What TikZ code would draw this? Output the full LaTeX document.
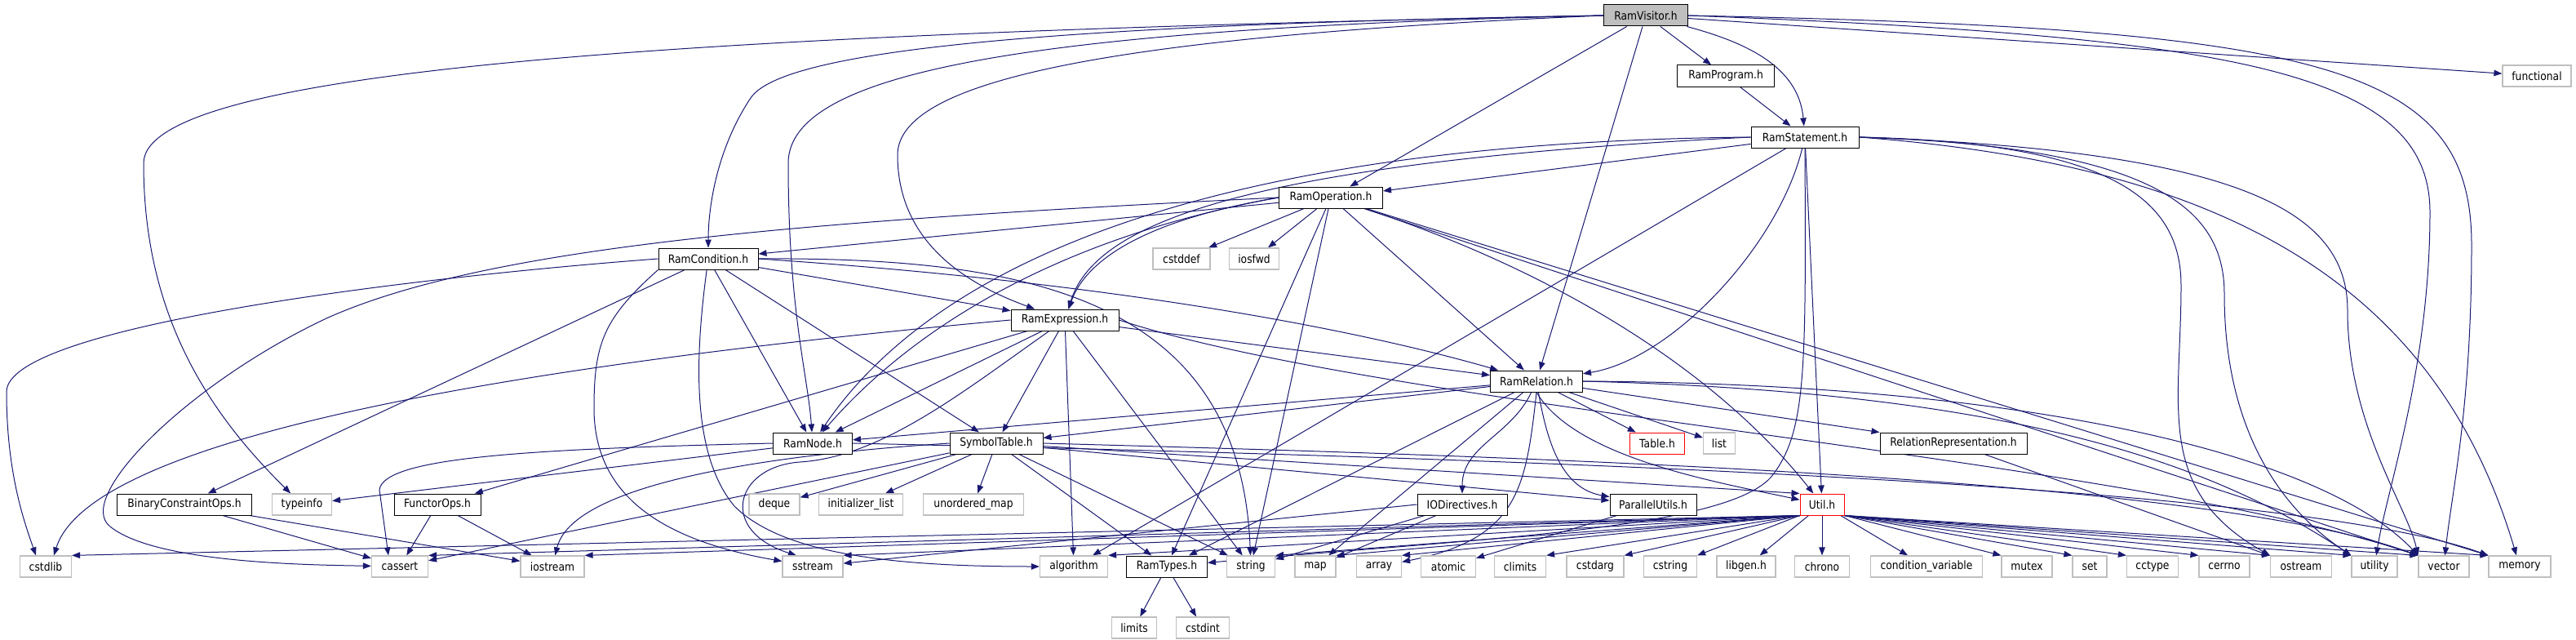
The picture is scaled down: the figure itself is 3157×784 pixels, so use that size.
\documentclass[tikz,border=0pt]{standalone}
\usepackage{fontspec}
\newfontfamily\graphfont{DejaVu Sans}[FakeStretch=0.88]
\usetikzlibrary{arrows.meta, backgrounds}

\begin{document}
\begin{tikzpicture}[x=1pt, y=-1pt,
    hdrbox/.style={draw=borderColour, fill=white, line width=1pt, inner sep=0pt,
        minimum height=26pt, font=\graphfont\fontsize{14pt}{16pt}\selectfont},
    sysbox/.style={hdrbox, draw=sysColour, line width=1.2pt},
    truncbox/.style={hdrbox, draw=truncColour},
    rootbox/.style={hdrbox, fill=rootColour},
    incl/.style={draw=edgeColour, line width=1pt, -{Triangle[length=10pt, width=7.5pt]}}]
    % Define colours
    \definecolor{borderColour}{HTML}{000000}
    \definecolor{sysColour}{HTML}{BFBFBF}
    \definecolor{truncColour}{HTML}{FF0000}
    \definecolor{rootColour}{HTML}{BFBFBF}
    \definecolor{edgeColour}{HTML}{191970}

    % Fix the canvas
    \useasboundingbox (0,0) rectangle (3157,784);

    % Draw project headers
    \node[rootbox, minimum width=103pt] (visitor) at (2017,19) {RamVisitor.h};
    \node[hdrbox, minimum width=119pt] (program) at (2115,93) {RamProgram.h};
    \node[hdrbox, minimum width=132pt] (statement) at (2212,168) {RamStatement.h};
    \node[hdrbox, minimum width=127pt] (operation) at (1631,242) {RamOperation.h};
    \node[hdrbox, minimum width=122pt] (condition) at (868,317) {RamCondition.h};
    \node[hdrbox, minimum width=132pt] (expression) at (1305,392) {RamExpression.h};
    \node[hdrbox, minimum width=113pt] (relation) at (1883,467) {RamRelation.h};
    \node[hdrbox, minimum width=97pt] (ramnode) at (996,543) {RamNode.h};
    \node[hdrbox, minimum width=114pt] (symtab) at (1221,543) {SymbolTable.h};
    \node[hdrbox, minimum width=180pt] (relrep) at (2394,543) {RelationRepresentation.h};
    \node[hdrbox, minimum width=165pt] (binops) at (226,618) {BinaryConstraintOps.h};
    \node[hdrbox, minimum width=106pt] (functor) at (536,618) {FunctorOps.h};
    \node[hdrbox, minimum width=110pt] (iodir) at (1792,618) {IODirectives.h};
    \node[hdrbox, minimum width=106pt] (parallel) at (2026,618) {ParallelUtils.h};
    \node[hdrbox, minimum width=99pt] (ramtypes) at (1430,694) {RamTypes.h};
    \node[truncbox, minimum width=67pt] (table) at (2031,543) {Table.h};
    \node[truncbox, minimum width=54pt] (util) at (2233,618) {Util.h};

    % Draw system headers
    \foreach \nd/\xpos/\ypos/\bw/\lbl in {functional/3109/93/84/functional,
        cstddef/1448/317/70/cstddef, iosfwd/1537/317/61/iosfwd, list/2107/543/39/list,
        typeinfo/370/618/73/typeinfo, deque/949/618/62/deque,
        initlist/1055/618/103/initializer\_list, umap/1193/618/123/unordered\_map,
        limits/1390/769/55/limits, cstdint/1474/769/65/cstdint}
        \node[sysbox, minimum width=\bw*1pt] (\nd) at (\xpos,\ypos) {\lbl};
    \foreach \nd/\xpos/\bw/\lbl in {cstdlib/56/63/cstdlib, cassert/490/69/cassert,
        iostream/677/78/iostream, sstream/996/74/sstream, algorithm/1316/83/algorithm,
        string/1533/59/string, map/1612/50/map, array/1690/55/array, atomic/1775/67/atomic,
        climits/1863/63/climits, cstdarg/1955/70/cstdarg, cstring/2047/65/cstring,
        libgen/2140/72/libgen.h, chrono/2233/67/chrono, condvar/2361/137/condition\_variable,
        mutex/2484/62/mutex, set/2561/42/set, cctype/2638/63/cctype, cerrno/2726/62/cerrno,
        ostream/2820/75/ostream, utility/2910/56/utility, vector/2995/62/vector,
        memory/3088/76/memory}
        \node[sysbox, minimum width=\bw*1pt] (\nd) at (\xpos,694) {\lbl};

    \begin{scope}[on background layer]
    % RamVisitor.h
    \draw[incl] (visitor) -- (program);
    \draw[incl] (visitor) to[out=-15, in=95] (statement);
    \draw[incl] (visitor) -- (operation);
    \draw[incl] (visitor) -- (relation);
    \draw[incl] (visitor) -- (functional);
    \draw[incl] (visitor.west) .. controls (1300,30) and (960,60) .. (920,120) .. controls (880,180) and (868,250) .. (condition);
    \draw[incl] (visitor.west) .. controls (1250,35) and (966,90) .. (966,200) .. controls (966,380) and (990,460) .. (ramnode);
    \draw[incl] (visitor.west) .. controls (1350,45) and (1100,100) .. (1100,190) .. controls (1100,300) and (1190,350) .. (expression);
    \draw[incl] (visitor.west) .. controls (900,40) and (176,80) .. (176,200) .. controls (176,380) and (250,500) .. (typeinfo);
    \draw[incl] (visitor.east) .. controls (2750,45) and (2978,90) .. (2978,260) .. controls (2978,450) and (2925,600) .. (utility);
    \draw[incl] (visitor.east) .. controls (2850,35) and (3029,80) .. (3029,300) .. controls (3029,500) and (3005,600) .. (vector);

    % RamProgram.h
    \draw[incl] (program) -- (statement);

    % RamStatement.h
    \draw[incl] (statement) -- (operation);
    \draw[incl] (statement.west) .. controls (1500,200) and (1340,280) .. (expression);
    \draw[incl] (statement.west) .. controls (1400,175) and (1120,360) .. (ramnode);
    \draw[incl] (statement) .. controls (2180,300) and (2050,440) .. (relation);
    \draw[incl] (statement) -- (util);
    \draw[incl] (statement) -- (algorithm);
    \draw[incl] (statement) .. controls (2213,450) and (2215,530) .. (2170,585) .. controls (2110,650) and (1800,660) .. (ramtypes);
    \draw[incl] (statement.east) .. controls (2600,175) and (2673,250) .. (2673,350) .. controls (2673,500) and (2640,600) .. (ostream.north west);
    \draw[incl] (statement.east) .. controls (2650,180) and (2726,260) .. (2726,360) .. controls (2726,520) and (2790,620) .. (utility.north west);
    \draw[incl] (statement.east) .. controls (2750,185) and (2877,260) .. (2877,380) .. controls (2877,520) and (2950,620) .. (vector.north west);
    \draw[incl] (statement.east) .. controls (2700,200) and (2980,330) .. (memory);

    % RamOperation.h
    \draw[incl] (operation) -- (condition);
    \draw[incl] (operation.west) .. controls (1400,270) and (1330,320) .. (expression);
    \draw[incl] (operation.west) .. controls (1300,290) and (1120,400) .. (ramnode);
    \draw[incl] (operation) -- (relation);
    \draw[incl] (operation) -- (ramtypes);
    \draw[incl] (operation) .. controls (1900,330) and (2100,450) .. (util);
    \draw[incl] (operation) -- (cstddef);
    \draw[incl] (operation) -- (iosfwd);
    \draw[incl] (operation) -- (string);
    \draw[incl] (operation) -- (vector.north west);
    \draw[incl] (operation) -- (memory.north west);
    \draw[incl] (operation.west) .. controls (1000,270) and (600,300) .. (400,390) .. controls (230,470) and (90,610) .. (135,645) .. controls (190,690) and (380,692) .. (cassert);

    % RamCondition.h
    \draw[incl] (condition) -- (expression);
    \draw[incl] (condition) -- (ramnode);
    \draw[incl] (condition) -- (symtab);
    \draw[incl] (condition) -- (binops);
    \draw[incl] (condition.east) .. controls (1350,345) and (1650,400) .. (relation);
    \draw[incl] (condition.east) .. controls (1250,315) and (1520,360) .. (string);
    \draw[incl] (condition.west) .. controls (500,340) and (8,400) .. (8,480) .. controls (8,580) and (30,640) .. ([xshift=-12pt]cstdlib.north);
    \draw[incl] (condition.south west) .. controls (740,390) and (728,420) .. (728,500) .. controls (728,600) and (800,660) .. (sstream);
    \draw[incl] (condition) .. controls (850,450) and (850,560) .. (900,620) .. controls (960,680) and (1100,694) .. (algorithm);

    % RamExpression.h
    \draw[incl] (expression) -- (ramnode);
    \draw[incl] (expression) -- (symtab);
    \draw[incl] (expression) -- (relation);
    \draw[incl] (expression) -- (algorithm);
    \draw[incl] (expression) -- (string);
    \draw[incl] (expression) -- (functor);
    \draw[incl] (expression.east) .. controls (1700,500) and (2600,560) .. (vector.north west);
    \draw[incl] (expression.west) .. controls (600,450) and (110,540) .. ([xshift=10pt]cstdlib.north);
    \draw[incl] (expression) .. controls (1180,480) and (1080,560) .. (980,566) .. controls (900,572) and (880,650) .. ([xshift=-20pt]sstream.north);

    % RamNode.h
    \draw[incl] (ramnode) -- (typeinfo);
    \draw[incl] (ramnode.west) .. controls (650,550) and (470,560) .. (465,600) -- ([xshift=-14pt]cassert.north);
    \draw[incl] (ramnode.east) .. controls (1800,560) and (2800,590) .. (memory.north west);

    % SymbolTable.h
    \draw[incl] (symtab) -- (deque);
    \draw[incl] (symtab) -- (initlist);
    \draw[incl] (symtab) -- (umap);
    \draw[incl] (symtab) -- (ramtypes);
    \draw[incl] (symtab) -- (string);
    \draw[incl] (symtab) -- (cassert);
    \draw[incl] (symtab.west) .. controls (900,560) and (700,600) .. (iostream);
    \draw[incl] (symtab) -- (parallel);
    \draw[incl] (symtab) -- (util.north west);
    \draw[incl] (symtab.east) .. controls (1900,560) and (2700,585) .. (vector.north west);

    % RamRelation.h
    \draw[incl] (relation) -- (ramnode);
    \draw[incl] (relation) -- (symtab);
    \draw[incl] (relation) to[out=-115, in=90] (iodir);
    \draw[incl] (relation) -- (ramtypes);
    \draw[incl] (relation) -- (map);
    \draw[incl] (relation.south) .. controls (1870,600) and (1860,660) .. (array);
    \draw[incl] (relation) to[out=-80, in=170] (parallel);
    \draw[incl] (relation.south) .. controls (1930,560) and (2100,590) .. (util);
    \draw[incl] (relation) -- (table);
    \draw[incl] (relation) -- (list);
    \draw[incl] (relation) -- (relrep);
    \draw[incl] (relation.east) .. controls (2450,480) and (2700,560) .. (utility.north west);
    \draw[incl] (relation.east) .. controls (2500,470) and (2850,560) .. (vector.north west);

    % IODirectives.h, ParallelUtils.h, RelationRepresentation.h
    \draw[incl] (iodir) -- (map);
    \draw[incl] (iodir) -- (string);
    \draw[incl] (iodir.west) -- (sstream);
    \draw[incl] (parallel) -- (atomic);
    \draw[incl] (relrep) -- (ostream);

    % BinaryConstraintOps.h, FunctorOps.h, RamTypes.h
    \draw[incl] (binops) -- (cassert);
    \draw[incl] (binops) -- (iostream);
    \draw[incl] (functor) -- (cassert);
    \draw[incl] (functor) -- (iostream);
    \draw[incl] (ramtypes) -- (limits);
    \draw[incl] (ramtypes) -- (cstdint);

    % Util.h
    \foreach \dst in {cstdlib, cassert, iostream, sstream, algorithm, string, map, array, climits, cstdarg, cstring}
        \draw[incl] (util.south west) -- (\dst.north east);
    \draw[incl] (util) -- (libgen);
    \draw[incl] (util) -- (chrono);
    \draw[incl] (util) -- (condvar);
    \foreach \dst in {mutex, set, cctype, cerrno, ostream, utility, vector, memory}
        \draw[incl] (util.south east) -- (\dst.north west);
    \end{scope}

\end{tikzpicture}
\end{document}
